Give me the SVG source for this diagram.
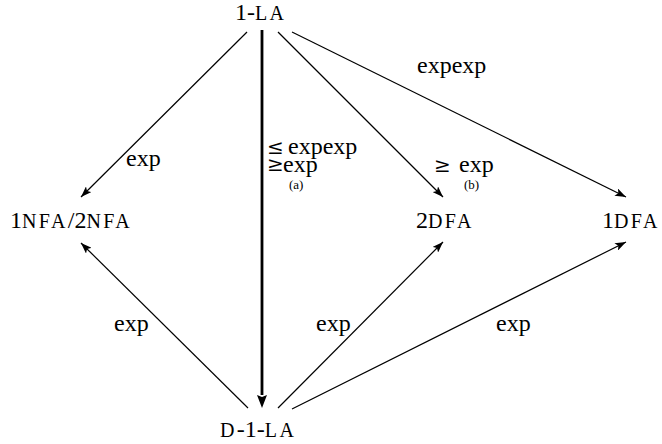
<svg xmlns="http://www.w3.org/2000/svg" width="662" height="444" viewBox="0 0 662 444">
<style>
text{font-family:"Liberation Serif","Times New Roman",serif;fill:#000}
.m{font-size:24px}
.sc{font-size:20px;letter-spacing:2.4px}
.rel{font-family:"DejaVu Serif",serif;font-size:20px}
.s{font-size:13px}
.ln{stroke:#000;stroke-width:1.2;fill:none}
.thick{stroke:#000;stroke-width:2.8;fill:none}
</style>
<defs>
<marker id="ah" markerUnits="userSpaceOnUse" markerWidth="12" markerHeight="8" refX="11" refY="4" orient="auto">
<path d="M0,0 L11,4 L0,8 L2.5,4 z" fill="#000"/>
</marker>
<marker id="ahT" markerUnits="userSpaceOnUse" markerWidth="14" markerHeight="10" refX="0" refY="5" orient="auto">
<path d="M0,0 L13,5 L0,10 L2,5 z" fill="#000"/>
</marker>
</defs>
<g id="connectors">
<line class="ln" x1="247" y1="32" x2="81" y2="197" marker-end="url(#ah)"/>
<line class="thick" x1="262" y1="30" x2="262" y2="395" marker-end="url(#ahT)"/>
<line class="ln" x1="278" y1="32" x2="443" y2="197" marker-end="url(#ah)"/>
<line class="ln" x1="292" y1="32" x2="626" y2="197" marker-end="url(#ah)"/>
<line class="ln" x1="248" y1="408" x2="81" y2="243" marker-end="url(#ah)"/>
<line class="ln" x1="278" y1="408" x2="443" y2="242" marker-end="url(#ah)"/>
<line class="ln" x1="292" y1="409" x2="626" y2="242" marker-end="url(#ah)"/>
<g id="edge-labels">
<text class="m" x="126" y="166">exp</text>
<text class="m" x="417" y="73">expexp</text>
<text class="rel" x="267" y="154">≤</text>
<text class="m" x="288" y="154">expexp</text>
<text class="rel" x="267" y="171">≥</text>
<text class="m" x="283" y="172">exp</text>
<text class="s" x="289" y="189">(a)</text>
<text class="rel" x="434" y="172">≥</text>
<text class="m" x="459" y="172">exp</text>
<text class="s" x="464" y="189">(b)</text>
<text class="m" x="114" y="331">exp</text>
<text class="m" x="316" y="331">exp</text>
<text class="m" x="496" y="331">exp</text>
</g>
</g>
<g id="n-1la"><text x="235" y="20"><tspan class="m">1-</tspan><tspan class="sc">LA</tspan></text></g>
<g id="n-nfa"><text x="10" y="228"><tspan class="m">1</tspan><tspan class="sc">NFA</tspan><tspan class="m">/2</tspan><tspan class="sc">NFA</tspan></text></g>
<g id="n-2dfa"><text x="416" y="228"><tspan class="m">2</tspan><tspan class="sc">DFA</tspan></text></g>
<g id="n-1dfa"><text x="602" y="228"><tspan class="m">1</tspan><tspan class="sc">DFA</tspan></text></g>
<g id="n-d1la"><text x="220" y="437"><tspan class="sc">D</tspan><tspan class="m">-1-</tspan><tspan class="sc">LA</tspan></text></g>
</svg>
